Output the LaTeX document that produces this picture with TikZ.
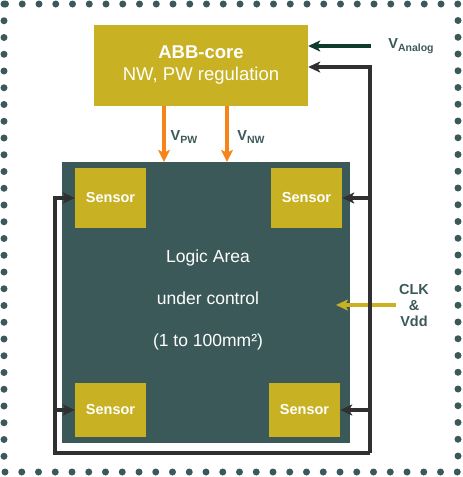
\documentclass[tikz,border=0pt]{standalone}
\usepackage{fontspec}
\setmainfont{Liberation Sans}
\usepackage{xcolor}
\usetikzlibrary{arrows.meta, calc}
\definecolor{abbgold}{HTML}{C8B122}
\definecolor{logicteal}{HTML}{3C5959}
\definecolor{nwpworange}{HTML}{F7841A}
\definecolor{analoggreen}{HTML}{0F3A2E}
\definecolor{busgray}{HTML}{303030}
\tikzstyle{frame} = [logicteal, line width=7, line cap=round, dash pattern=on 0pt off 16.75pt]
\tikzstyle{block} = [rectangle, fill=abbgold, text=white, inner sep=0pt]
\tikzstyle{sensor} = [block, minimum width=71, font=\fontsize{14.5}{14}\selectfont\bfseries]
\tikzstyle{lbl} = [text=logicteal, font=\fontsize{14.5}{16}\selectfont\bfseries, align=center]
\tikzstyle{bus} = [line width=3.6, busgray, -{Stealth[length=12pt,width=11pt,inset=3pt]}]
\tikzstyle{supply} = [line width=4, nwpworange, -{Stealth[length=12pt,width=12pt,inset=3pt]}]
\tikzstyle{analog} = [line width=4, analoggreen, -{Stealth[length=12pt,width=11pt,inset=3pt]}]
\tikzstyle{clock} = [line width=3.6, abbgold, -{Stealth[length=12pt,width=11pt,inset=3pt]}]
\newcommand{\vsub}[1]{V\raisebox{-3pt}{\fontsize{10.5}{10}\selectfont #1}}

\begin{document}
\begin{tikzpicture}[x=1pt, y=-1pt]
        \useasboundingbox (0,0) rectangle (463,477);
        % Dotted frame
        \draw[frame] (4,4) rectangle (458,472);

        % Core block and logic area
        \node[block, minimum width=214, minimum height=81, align=center,
              font=\fontsize{18.5}{22}\selectfont] (abb) at (201,65.5)
              {\textbf{ABB-core}\\NW, PW regulation};
        \node[rectangle, fill=logicteal, minimum width=288, minimum height=281,
              inner sep=0pt] (logic) at (206,302.5) {};
        \node[text=white, align=center, font=\fontsize{17.5}{42}\selectfont] (area) at (208,300)
              {Logic Area\\under control\\(1 to 100mm²)};

        % Sensors
        \foreach \n/\x/\y/\h in {s1/110.5/198/60, s2/306.5/198/60, s3/110.5/410/54, s4/304.5/410/54}
          \node[sensor, minimum height=\h] (\n) at (\x,\y) {Sensor};

        % Supplies
        \coordinate (pw) at (164,0);
        \coordinate (nw) at (227,0);
        \draw[supply] (abb.south -| pw) -- (logic.north -| pw);
        \draw[supply] (abb.south -| nw) -- (logic.north -| nw);
        \node[lbl] (vpw) at (184,137) {\vsub{PW}};
        \node[lbl] (vnw) at (251,137) {\vsub{NW}};

        % Analog input
        \node[lbl] (va) at (411,46) {\vsub{Analog}};
        \draw[analog] ([xshift=-14pt]va.west) -- (abb.east |- va.west);

        % Clock and supply input
        \node[lbl] (clk) at (414,306) {CLK\\\&\\Vdd};
        \coordinate (clkin) at (336,305);
        \draw[clock] (clk.west |- clkin) -- (clkin);

        % Feedback bus
        \coordinate (rb) at (370,453);
        \coordinate (lb) at (55,453);
        \draw[bus] (rb) |- ([yshift=-1.5pt]abb.east);
        \draw[bus] (rb) -- (lb) |- (s1.west);
        \draw[bus] (lb |- s3.west) -- (s3.west);
        \foreach \n in {s2, s4}
          \draw[bus] (rb |- \n.east) -- (\n.east);
\end{tikzpicture}
\end{document}
